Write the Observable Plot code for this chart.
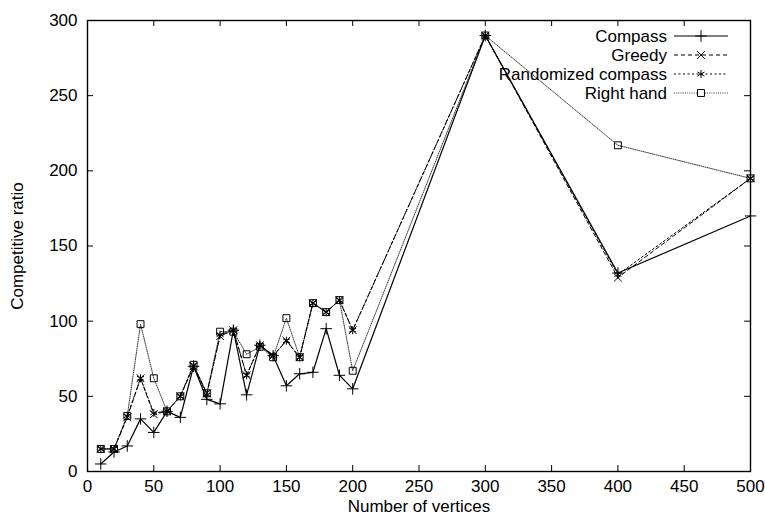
<!DOCTYPE html>
<html><head><meta charset="utf-8">
<script src="https://cdn.jsdelivr.net/npm/d3@7"></script>
<script src="https://cdn.jsdelivr.net/npm/@observablehq/plot@0.6"></script>
<style>body{margin:0;background:#fff}</style>
</head><body><div id="chart"></div>
<script>
const vertices   = [10,20,30,40,50,60,70,80,90,100,110,120,130,140,150,160,170,180,190,200,300,400,500];
const compass    = [5,13,17,35,26,40,36,70,48,45,94,51,84,77,57,65,66,95,64,55,290,132,170];
const greedy     = [15,15,36,62,38,40,50,70,52,90,94,64,84,77,87,76,112,106,114,94,290,129,195];
const randomized = [15,15,37,62,39,40,50,71,51,91,94,64,84,77,87,76,112,106,114,94,290,131,195];
const rightHand  = [15,15,37,98,62,40,50,71,52,93,93,78,83,76,102,76,112,106,114,67,290,217,195];
const seriesNames = ["Compass","Greedy","Randomized compass","Right hand"];
const seriesValues = [compass, greedy, randomized, rightHand];
const xTicks = [0,50,100,150,200,250,300,350,400,450,500];
const yTicks = [0,50,100,150,200,250,300];

const W = 765, H = 517;
const M = {top: 20, right: 15, bottom: 46, left: 87};
const innerW = W - M.left - M.right, innerH = H - M.top - M.bottom;
const FONT = "'Liberation Sans', Arial, Helvetica, sans-serif";

const styles = {
  "Compass":            {dash: null,     symbol: "plus",     r: 3.8, sw: 1.2, stroke: "#000"},
  "Greedy":             {dash: "4,3",    symbol: "times",    r: 3.6, sw: 1,   stroke: "#000"},
  "Randomized compass": {dash: "2,2.5",  symbol: "asterisk", r: 3.8, sw: 1,   stroke: "#000"},
  "Right hand":         {dash: "1,1.2",  symbol: "square2",  r: 4.4, sw: 0.9, stroke: "#222"}
};

const rows = seriesNames.flatMap((s, i) => vertices.map((v, j) => ({series: s, x: v, y: seriesValues[i][j]})));

const drawOrder = ["Right hand","Randomized compass","Greedy","Compass"];
const lineMarks = drawOrder.map(s => Plot.line(rows.filter(d => d.series === s), {
  x: "x", y: "y", stroke: styles[s].stroke, strokeWidth: styles[s].sw,
  strokeDasharray: styles[s].dash ?? undefined
}));
const dotMarks = drawOrder.map(s => Plot.dot(rows.filter(d => d.series === s), {
  x: "x", y: "y", symbol: () => styles[s].symbol, r: styles[s].r,
  stroke: "#000", fill: "none", strokeWidth: 1
}));

const chart = Plot.plot({
  width: W, height: H,
  marginTop: M.top, marginRight: M.right, marginBottom: M.bottom, marginLeft: M.left,
  style: {fontFamily: FONT, fontSize: "17px", background: "#fff", color: "#000"},
  x: {domain: [0, 500]},
  y: {domain: [0, 300]},
  symbol: {type: "identity"},
  marks: [
    Plot.tickX(xTicks, {x: d => d, insetTop: innerH - 6, stroke: "#000"}),
    Plot.tickX(xTicks, {x: d => d, insetBottom: innerH - 6, stroke: "#000"}),
    Plot.tickY(yTicks, {y: d => d, insetRight: innerW - 6, stroke: "#000"}),
    Plot.tickY(yTicks, {y: d => d, insetLeft: innerW - 6, stroke: "#000"}),
    ...lineMarks,
    ...dotMarks,
    Plot.frame({stroke: "#000", strokeWidth: 1.4}),
    Plot.axisX({ticks: xTicks, tickSize: 0, tickPadding: 8, fontSize: 17,
      label: "Number of vertices", labelAnchor: "center", labelArrow: "none", labelOffset: 40}),
    Plot.axisY({ticks: yTicks, tickSize: 0, tickPadding: 10, fontSize: 17,
      label: "Competitive ratio", labelAnchor: "center", labelArrow: "none", labelOffset: 77})
  ]
});
document.getElementById("chart").appendChild(chart);

// Legend inside the plot (top-right), drawn in the SVG
const svg = d3.select(chart.tagName.toLowerCase() === "svg" ? chart : chart.querySelector("svg"));
const legend = svg.append("g").attr("font-family", FONT).attr("font-size", 17);
const symGen = {
  plus: d3.symbol(d3.symbolPlus, Math.PI * 3.8 * 3.8),
  times: d3.symbol(d3.symbolTimes, Math.PI * 3.6 * 3.6),
  asterisk: d3.symbol(d3.symbolAsterisk, Math.PI * 3.8 * 3.8),
  square2: d3.symbol(d3.symbolSquare2, Math.PI * 4.4 * 4.4)
};
seriesNames.forEach((s, i) => {
  const cy = 36 + i * 19;
  legend.append("text").attr("x", 667).attr("y", cy).attr("dy", "0.36em")
    .attr("text-anchor", "end").attr("fill", "#000").text(s);
  legend.append("line").attr("x1", 674).attr("x2", 728).attr("y1", cy).attr("y2", cy)
    .attr("stroke", styles[s].stroke).attr("stroke-width", styles[s].sw)
    .attr("stroke-dasharray", styles[s].dash);
  legend.append("path").attr("d", symGen[styles[s].symbol]())
    .attr("transform", `translate(701,${cy})`)
    .attr("fill", s === "Right hand" ? "#fff" : "none").attr("stroke", "#000");
});
</script></body></html>
